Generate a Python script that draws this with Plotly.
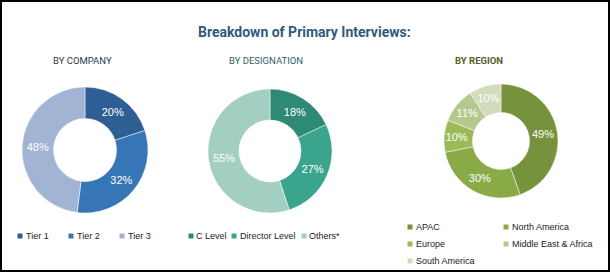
import plotly.graph_objects as go

W, H = 610, 272

# ---- data ----
company_labels = ["Tier 1", "Tier 2", "Tier 3"]
company_values = [20, 32, 48]
company_colors = ["#2D5E94", "#3776B6", "#A2B4D3"]

designation_labels = ["C Level", "Director Level", "Others*"]
designation_values = [18, 27, 55]
designation_colors = ["#2E8A74", "#3AA58C", "#A3CFC3"]

region_labels = ["APAC", "North America", "Europe", "Middle East & Africa", "South America"]
region_values = [49, 30, 10, 11, 10]
region_colors = ["#76923C", "#8AAA48", "#9BBB59", "#B4C98E", "#D0DCBC"]

title_text = "Breakdown of Primary Interviews:"
subtitles = ["BY COMPANY", "BY DESIGNATION", "BY REGION"]

NARROW = "Roboto, Arial, sans-serif"
SANS = "Liberation Sans, Arial, sans-serif"


def px_x(x):
    return x / W


def px_y(y):
    return 1 - y / H


def dom(cx, cy, r):
    return dict(x=[px_x(cx - r), px_x(cx + r)], y=[px_y(cy + r), px_y(cy - r)])


fig = go.Figure()

pies = [
    (company_labels, company_values, company_colors, (85, 150, 63)),
    (designation_labels, designation_values, designation_colors, (270, 151, 62)),
    (region_labels, region_values, region_colors, (501, 141, 57)),
]
for labels, values, colors, (cx, cy, r) in pies:
    fig.add_trace(go.Pie(
        labels=labels, values=values, hole=0.5, sort=False, direction="clockwise",
        rotation=0, domain=dom(cx, cy, r),
        marker=dict(colors=colors, line=dict(color="rgba(255,255,255,0.6)", width=0.8)),
        texttemplate="%{value}%", textposition="inside", insidetextorientation="horizontal",
        textfont=dict(color="white", size=11, family=SANS),
        showlegend=False, hoverinfo="skip",
    ))

annotations = []
annotations.append(dict(text="<b>" + title_text + "</b>", x=px_x(304), y=px_y(32), xref="paper", yref="paper",
                        showarrow=False, font=dict(family=NARROW, size=14, color="#2F5A7C"),
                        xanchor="center", yanchor="middle"))
sub_pos = [(82, "#2B3A4A", False), (266, "#2F6262", False), (479, "#4F6228", True)]
for txt, (x, col, bold) in zip(subtitles, sub_pos):
    annotations.append(dict(text=("<b>%s</b>" % txt) if bold else txt, x=px_x(x), y=px_y(60),
                            xref="paper", yref="paper", showarrow=False,
                            font=dict(family=NARROW, size=9.5, color=col),
                            xanchor="center", yanchor="middle"))

shapes = []
# custom legends
legend_specs = [
    (company_labels, company_colors, [(20, 236), (71, 236), (122, 236)]),
    (designation_labels, designation_colors, [(191, 236), (234, 236), (304, 236)]),
    (region_labels, region_colors, [(410, 227), (506, 227), (410, 244), (506, 244), (410, 261)]),
]
for labels, colors, positions in legend_specs:
    for lab, col, (x, y) in zip(labels, colors, positions):
        shapes.append(dict(type="rect", xref="paper", yref="paper",
                           x0=px_x(x - 2.5), x1=px_x(x + 2.5), y0=px_y(y + 2.5), y1=px_y(y - 2.5),
                           fillcolor=col, line=dict(width=0)))
        annotations.append(dict(text=lab, x=px_x(x + 3.5), y=px_y(y), xref="paper", yref="paper",
                                showarrow=False, xanchor="left", yanchor="middle",
                                font=dict(family=SANS, size=9, color="#222222")))

# outer frame
shapes.append(dict(type="rect", xref="paper", yref="paper",
                   x0=px_x(1), x1=px_x(609), y0=px_y(271), y1=px_y(1),
                   line=dict(color="black", width=2), fillcolor="rgba(0,0,0,0)"))

fig.update_layout(
    width=W, height=H, margin=dict(l=0, r=0, t=0, b=0),
    paper_bgcolor="white", plot_bgcolor="white",
    annotations=annotations, shapes=shapes, showlegend=False,
)

fig.write_html("out.html", config={"displayModeBar": False})
